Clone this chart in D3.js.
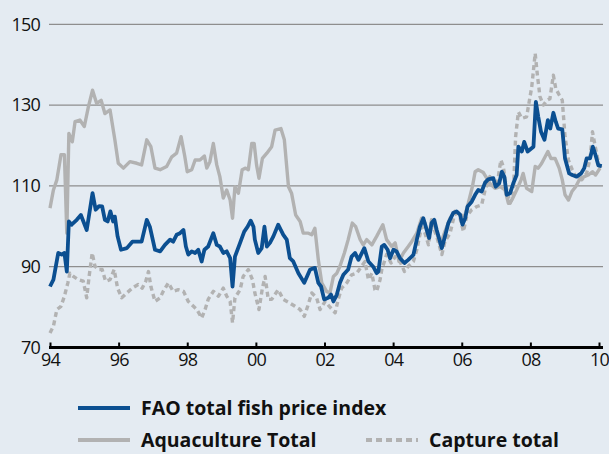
<!DOCTYPE html>
<html>
<head>
<meta charset="utf-8">
<script src="https://cdn.jsdelivr.net/npm/d3@7"></script>
<style>
  html, body { margin: 0; padding: 0; background: #e4ebf2; }
  svg { display: block; }
  text { font-family: "Open Sans", "Noto Sans", sans-serif; fill: #111; }
</style>
</head>
<body>
<svg id="chart" width="609" height="454"></svg>
<script>
// ---------- DATA ----------
const xTickValues = [1994, 1996, 1998, 2000, 2002, 2004, 2006, 2008, 2010];
const xTickLabels = ["94", "96", "98", "00", "02", "04", "06", "08", "10"];
const yTickValues = [70, 90, 110, 130, 150];

const seriesNames = ["FAO total fish price index", "Aquaculture Total", "Capture total"];

const faoYears = [1994.00,1994.10,1994.24,1994.34,1994.42,1994.49,1994.55,1994.63,1994.78,1994.90,1995.07,1995.24,1995.33,1995.43,1995.52,1995.60,1995.68,1995.76,1995.84,1995.89,1995.97,1996.07,1996.24,1996.40,1996.67,1996.82,1996.91,1997.06,1997.21,1997.35,1997.50,1997.59,1997.69,1997.79,1997.89,1997.96,1998.03,1998.13,1998.23,1998.32,1998.42,1998.50,1998.61,1998.76,1998.86,1998.95,1999.05,1999.15,1999.25,1999.32,1999.39,1999.54,1999.66,1999.76,1999.85,1999.93,1999.97,2000.07,2000.17,2000.25,2000.32,2000.41,2000.51,2000.65,2000.80,2000.90,2000.99,2001.09,2001.24,2001.41,2001.58,2001.72,2001.82,2001.90,2001.99,2002.11,2002.19,2002.26,2002.36,2002.45,2002.55,2002.69,2002.79,2002.89,2002.99,2003.16,2003.28,2003.42,2003.52,2003.57,2003.67,2003.74,2003.84,2003.91,2004.01,2004.10,2004.20,2004.33,2004.44,2004.59,2004.69,2004.78,2004.88,2004.98,2005.05,2005.12,2005.20,2005.27,2005.42,2005.51,2005.61,2005.75,2005.85,2005.95,2006.02,2006.10,2006.17,2006.29,2006.39,2006.48,2006.58,2006.68,2006.77,2006.92,2006.99,2007.09,2007.17,2007.24,2007.31,2007.41,2007.50,2007.60,2007.65,2007.75,2007.82,2007.92,2008.09,2008.16,2008.23,2008.31,2008.41,2008.51,2008.58,2008.67,2008.74,2008.81,2008.93,2009.01,2009.13,2009.22,2009.35,2009.48,2009.57,2009.64,2009.74,2009.82,2009.90,2009.98,2010.08];
const faoValues = [85.1,86.8,93.4,93.0,93.4,88.8,101.2,100.4,101.6,102.8,99.1,108.2,104.1,105.0,104.9,101.6,101.2,103.7,101.2,102.4,97.5,94.2,94.6,96.2,96.2,101.6,99.9,94.2,93.8,95.4,96.7,96.2,97.9,98.3,99.1,95.0,93.0,93.8,93.4,94.2,91.3,94.2,95.0,98.3,95.4,95.0,93.4,93.8,92.1,85.1,92.5,95.9,98.7,99.9,101.4,99.9,96.7,93.4,94.6,99.9,95.0,95.9,97.5,100.4,97.9,96.7,92.1,91.3,88.4,86.0,89.3,89.7,86.0,85.1,81.9,82.3,83.1,81.4,83.1,86.0,88.0,89.3,92.5,93.4,91.7,94.6,91.3,90.0,88.4,88.8,95.0,95.4,94.2,92.1,94.2,93.8,92.1,90.9,91.7,92.9,96.7,99.9,102.0,99.1,97.1,100.8,101.6,99.1,94.6,97.5,100.8,103.3,103.7,102.9,100.4,102.0,104.9,106.1,107.8,109.0,108.6,110.8,111.6,111.9,109.8,110.6,113.5,112.3,107.8,108.2,110.6,112.7,119.7,118.5,120.9,118.5,119.7,130.8,127.1,123.4,121.4,126.3,124.2,128.1,125.9,124.2,124.0,116.8,113.1,112.7,112.3,113.1,114.4,116.8,116.8,119.7,117.6,115.1,114.9];

const aquaYears = [1994.00,1994.10,1994.20,1994.32,1994.42,1994.49,1994.55,1994.65,1994.73,1994.87,1995.00,1995.12,1995.24,1995.36,1995.49,1995.60,1995.75,1995.89,1995.99,1996.14,1996.33,1996.53,1996.67,1996.82,1996.94,1997.06,1997.21,1997.40,1997.55,1997.69,1997.82,1997.93,1998.00,1998.13,1998.23,1998.37,1998.50,1998.57,1998.66,1998.76,1998.86,1998.95,1999.05,1999.15,1999.25,1999.32,1999.39,1999.49,1999.60,1999.70,1999.78,1999.88,1999.95,2000.02,2000.09,2000.19,2000.32,2000.46,2000.56,2000.73,2000.83,2000.95,2001.04,2001.16,2001.29,2001.38,2001.53,2001.63,2001.72,2001.82,2001.92,2002.06,2002.16,2002.26,2002.36,2002.45,2002.58,2002.69,2002.81,2002.91,2003.04,2003.13,2003.23,2003.38,2003.52,2003.70,2003.81,2003.96,2004.06,2004.17,2004.30,2004.44,2004.54,2004.69,2004.83,2004.93,2005.03,2005.12,2005.22,2005.37,2005.51,2005.66,2005.80,2005.95,2006.08,2006.19,2006.31,2006.39,2006.48,2006.63,2006.82,2006.97,2007.12,2007.26,2007.36,2007.46,2007.60,2007.73,2007.79,2007.89,2008.04,2008.14,2008.23,2008.33,2008.43,2008.51,2008.60,2008.72,2008.84,2008.93,2009.01,2009.11,2009.21,2009.32,2009.45,2009.57,2009.69,2009.81,2009.90,2010.03];
const aquaValues = [104.5,109.0,111.5,117.7,117.7,98.3,123.0,120.9,125.9,126.3,124.7,129.6,133.7,130.4,131.2,127.9,128.8,121.4,115.6,114.4,116.0,115.6,115.2,121.4,119.7,114.4,114.0,114.8,117.2,118.1,122.2,117.2,113.5,114.0,116.4,116.4,117.4,114.4,116.0,120.5,115.2,112.3,107.0,109.0,106.5,102.0,109.8,108.2,114.0,114.4,114.0,120.5,120.5,115.2,111.9,116.8,118.1,119.7,123.8,124.2,121.4,109.8,108.2,102.8,101.2,98.3,98.3,97.9,99.5,91.7,86.0,83.9,83.5,87.6,88.4,90.1,93.4,96.7,100.8,99.9,96.7,95.4,96.7,95.4,97.5,100.4,96.7,95.0,95.9,91.3,93.4,95.0,96.2,98.3,102.0,100.8,97.1,101.6,99.9,95.4,98.7,102.0,103.7,102.9,102.4,105.7,109.8,113.5,114.0,113.3,110.6,109.4,109.8,109.0,105.7,106.5,109.0,111.5,113.1,109.4,108.6,114.8,114.4,115.6,117.2,118.5,116.8,116.8,114.4,111.5,107.8,106.5,108.6,109.8,111.9,112.3,112.7,113.5,112.7,114.4];

const captureYears = [1994.00,1994.10,1994.20,1994.32,1994.42,1994.52,1994.58,1994.68,1994.82,1994.97,1995.07,1995.14,1995.23,1995.31,1995.41,1995.52,1995.62,1995.75,1995.87,1995.97,1996.09,1996.24,1996.40,1996.57,1996.69,1996.79,1996.87,1996.94,1997.06,1997.21,1997.30,1997.45,1997.59,1997.74,1997.89,1998.03,1998.18,1998.28,1998.42,1998.52,1998.61,1998.76,1998.91,1999.05,1999.15,1999.25,1999.32,1999.39,1999.54,1999.63,1999.78,1999.90,1999.97,2000.09,2000.19,2000.27,2000.36,2000.46,2000.65,2000.80,2000.99,2001.14,2001.29,2001.41,2001.51,2001.63,2001.77,2001.87,2002.02,2002.14,2002.31,2002.40,2002.50,2002.65,2002.79,2002.94,2003.08,2003.18,2003.28,2003.38,2003.47,2003.52,2003.62,2003.67,2003.81,2003.94,2004.06,2004.20,2004.33,2004.44,2004.59,2004.69,2004.83,2004.93,2005.03,2005.12,2005.27,2005.42,2005.51,2005.66,2005.80,2005.95,2006.05,2006.14,2006.29,2006.44,2006.58,2006.68,2006.82,2007.02,2007.14,2007.21,2007.31,2007.41,2007.50,2007.57,2007.65,2007.75,2007.89,2008.04,2008.14,2008.21,2008.28,2008.38,2008.48,2008.57,2008.67,2008.74,2008.84,2008.93,2009.01,2009.11,2009.22,2009.35,2009.50,2009.64,2009.74,2009.81,2009.90,2010.00,2010.08];
const captureValues = [73.6,75.3,79.4,80.2,82.7,86.0,88.4,87.6,86.8,86.4,82.3,87.6,93.4,90.1,89.3,89.3,86.4,86.8,89.3,84.7,82.3,83.5,84.7,85.6,84.7,86.4,88.8,85.1,81.4,82.3,83.9,86.0,83.9,84.3,83.9,81.4,80.2,79.4,77.3,79.4,81.9,83.9,82.7,84.7,82.7,81.4,76.1,82.3,84.3,87.6,89.3,86.8,83.5,79.4,84.7,87.6,81.9,81.9,84.3,81.9,81.0,80.2,79.4,77.7,80.2,83.5,82.3,79.4,81.4,80.2,78.6,81.9,84.7,86.0,88.0,88.4,90.1,91.3,86.8,88.4,84.3,83.9,86.8,89.3,93.0,90.9,92.5,91.3,88.8,90.1,91.3,94.2,99.9,98.3,95.4,100.8,97.5,93.0,96.2,98.3,103.3,102.0,98.7,102.4,104.1,104.9,105.3,109.0,112.3,109.8,116.4,114.8,109.0,105.7,107.4,122.2,128.3,126.7,127.1,134.5,142.8,137.0,132.1,130.0,131.2,131.6,137.4,134.1,132.5,131.2,122.2,116.4,114.0,111.9,111.5,113.1,116.8,123.4,119.3,115.1,114.4];

// ---------- CHART ----------
const svg = d3.select("#chart");
const W = 609, H = 454;
svg.append("rect").attr("width", W).attr("height", H).attr("fill", "#e4ebf2");

const x = d3.scaleLinear().domain([1994, 2010]).range([50, 599]);
const y = d3.scaleLinear().domain([70, 150]).range([347.5, 24.3]);
const plotLeft = 49, plotRight = 603;

const COL_BLUE = "#0b4f91";
const COL_GRAY = "#b2b2b2";

// gridlines
svg.append("g").selectAll("line")
  .data(yTickValues.filter(v => v > 70))
  .join("line")
  .attr("x1", plotLeft).attr("x2", plotRight)
  .attr("y1", d => y(d)).attr("y2", d => y(d))
  .attr("stroke", "#8e8e8e").attr("stroke-width", 1.2);

// y axis labels
const yAxis = d3.axisLeft(y).tickValues(yTickValues).tickSize(0).tickPadding(0);
const gy = svg.append("g").attr("transform", "translate(40,0)").call(yAxis);
gy.select(".domain").remove();
gy.selectAll("text")
  .attr("font-size", 18).attr("letter-spacing", -0.8)
  .attr("font-family", "'Open Sans', sans-serif").attr("fill", "#111");

// lines
const mk = (xs, vs) => xs.map((d, i) => [d, vs[i]]);
const line = d3.line().x(d => x(d[0])).y(d => y(d[1]));

svg.append("path").datum(mk(aquaYears, aquaValues))
  .attr("d", line).attr("fill", "none").attr("stroke", COL_GRAY)
  .attr("stroke-width", 3.4).attr("stroke-linejoin", "round");

svg.append("path").datum(mk(captureYears, captureValues))
  .attr("d", line).attr("fill", "none").attr("stroke", COL_GRAY)
  .attr("stroke-width", 3.4).attr("stroke-dasharray", "5,3.5").attr("stroke-linejoin", "round");

svg.append("path").datum(mk(faoYears, faoValues))
  .attr("d", line).attr("fill", "none").attr("stroke", COL_BLUE)
  .attr("stroke-width", 3.8).attr("stroke-linejoin", "round");

// x axis
const xAxis = d3.axisBottom(x).tickValues(xTickValues)
  .tickFormat((d, i) => xTickLabels[i]).tickSize(-5).tickPadding(5.5);
const gx = svg.append("g").attr("transform", "translate(0," + y(70) + ")").call(xAxis);
gx.select(".domain").remove();
gx.append("line").attr("x1", plotLeft).attr("x2", plotRight)
  .attr("y1", 0).attr("y2", 0).attr("stroke", "#000").attr("stroke-width", 3);
gx.selectAll(".tick line").attr("stroke", "#000").attr("stroke-width", 2);
gx.selectAll("text")
  .attr("font-size", 18).attr("letter-spacing", -0.8)
  .attr("font-family", "'Open Sans', sans-serif").attr("fill", "#111");

// legend
const legendItems = [
  { name: seriesNames[0], color: COL_BLUE, dash: null, lx: 78, ly: 408 },
  { name: seriesNames[1], color: COL_GRAY, dash: null, lx: 78, ly: 440 },
  { name: seriesNames[2], color: COL_GRAY, dash: "6,4", lx: 366, ly: 440 }
];
const lg = svg.append("g");
legendItems.forEach(it => {
  lg.append("line").attr("x1", it.lx).attr("x2", it.lx + 52)
    .attr("y1", it.ly).attr("y2", it.ly)
    .attr("stroke", it.color).attr("stroke-width", 4)
    .attr("stroke-dasharray", it.dash);
  lg.append("text").attr("x", it.lx + 63).attr("y", it.ly + 7)
    .attr("font-size", 19.5).attr("font-weight", "bold")
    .attr("font-family", "'Open Sans', sans-serif").attr("fill", "#111")
    .text(it.name);
});
</script>
</body>
</html>
